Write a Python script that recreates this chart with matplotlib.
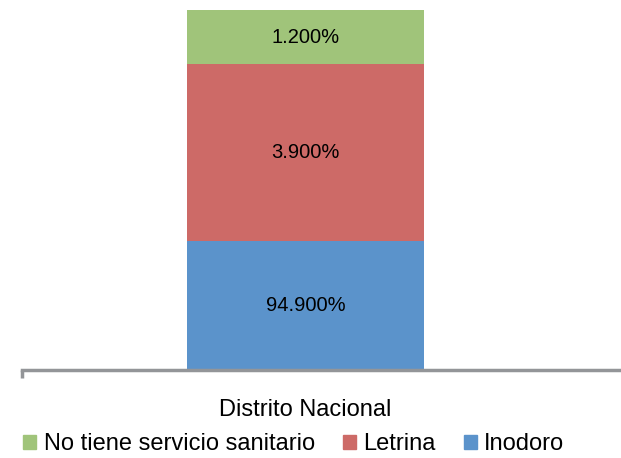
import matplotlib
matplotlib.use("Agg")
import matplotlib.pyplot as plt
from matplotlib.patches import Patch

# datos
categoria = "Distrito Nacional"
series = ["Inodoro", "Letrina", "No tiene servicio sanitario"]
etiquetas = [94.9, 3.9, 1.2]          # valores mostrados
alturas = [35.8, 49.1, 15.1]          # altura visual de cada tramo en la imagen
colores = ["#5B93CB", "#CD6A67", "#A0C47A"]

plt.rcParams['font.family'] = ['Liberation Sans', 'DejaVu Sans']

fig = plt.figure(figsize=(6.21, 4.58), dpi=100)
ax = fig.add_axes([22/621, 88/458, 599/621, 360/458])

ancho = 0.396
base = 0
for nombre, h, et, c in zip(series, alturas, etiquetas, colores):
    ax.bar(0, h, width=ancho, bottom=base, color=c, label=nombre)
    ax.text(0, base + h/2, f"{et:.3f}%", ha='center', va='center', fontsize=14.5)
    base += h

ax.set_xlim(-0.473, 0.527)
ax.set_ylim(0, sum(alturas))

for s in ['top', 'right', 'left']:
    ax.spines[s].set_visible(False)
ax.spines['bottom'].set_color('#939598')
ax.spines['bottom'].set_linewidth(2.5)
ax.set_yticks([])
ax.set_xticks([-0.473], [''])
ax.tick_params(axis='x', which='major', color='#939598', width=2.5, length=6)
ax.set_xticks([0], [categoria], minor=True)
ax.tick_params(axis='x', which='minor', length=0, pad=21, labelsize=17)

handles = [Patch(color=colores[i], label=series[i]) for i in [2, 1, 0]]
fig.legend(handles=handles, loc='center', bbox_to_anchor=(0.473, 0.030), ncol=3,
           frameon=False, fontsize=17, handlelength=0.55, handleheight=0.55,
           handletextpad=0.3, columnspacing=1.2, borderpad=0)

fig.savefig("out.png", dpi=100)
